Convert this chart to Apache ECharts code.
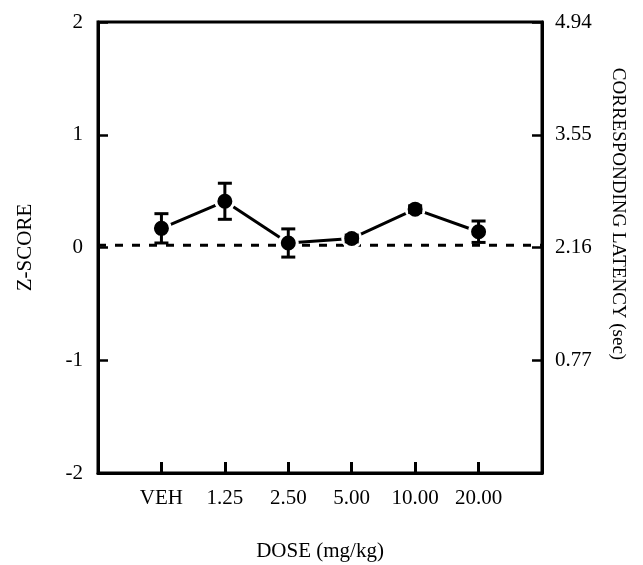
<!DOCTYPE html>
<html>
<head>
<meta charset="utf-8">
<script src="https://cdn.jsdelivr.net/npm/echarts@6/dist/echarts.min.js"></script>
<style>
  html, body { margin: 0; padding: 0; background: #fff; }
</style>
</head>
<body>
<div id="chart" style="width:643px;height:565px"></div>
<script>
// dose groups (x positions 1..6)
var doseLabels = ["VEH", "1.25", "2.50", "5.00", "10.00", "20.00"];
// mean z-score and error (SEM)
var zScores = [0.17, 0.41, 0.04, 0.08, 0.34, 0.14];
var zErrors = [0.13, 0.16, 0.125, 0.03, 0.03, 0.095];
// right axis tick labels, for z = -2, -1, 0, 1, 2
var latencyTicks = ["", "0.77", "2.16", "3.55", "4.94"];
// baseline reference (dashed)
var baseline = 0.02;

var serif = "Liberation Serif";

var points = zScores.map(function (v, i) { return [i + 1, v]; });
var errData = zScores.map(function (v, i) { return [i + 1, v, zErrors[i]]; });

var chart = echarts.init(document.getElementById("chart"));
chart.setOption({
  animation: false,
  backgroundColor: "#fff",
  grid: {
    left: 98, right: 101, top: 22, bottom: 92,
    outerBoundsMode: "none",
    show: true, borderColor: "#000", borderWidth: 3
  },
  xAxis: {
    type: "value",
    min: 0, max: 7, interval: 1,
    splitLine: { show: false },
    axisLine: { onZero: false, lineStyle: { color: "#000", width: 3 } },
    axisTick: { inside: true, length: 11, lineStyle: { color: "#000", width: 3 } },
    axisLabel: {
      margin: 15, color: "#000", fontFamily: serif, fontSize: 21,
      formatter: function (v) { return doseLabels[v - 1] || ""; }
    },
    name: "DOSE (mg/kg)",
    nameLocation: "middle",
    nameGap: 68,
    nameTextStyle: { color: "#000", fontFamily: serif, fontSize: 21 }
  },
  yAxis: [
    {
      type: "value",
      min: -2, max: 2, interval: 1,
      splitLine: { show: false },
      axisLine: { lineStyle: { color: "#000", width: 3 } },
      axisTick: { inside: true, length: 10, lineStyle: { color: "#000", width: 2.5 } },
      axisLabel: { margin: 15, color: "#000", fontFamily: serif, fontSize: 21 },
      name: "Z-SCORE",
      nameLocation: "middle",
      nameGap: 62,
      nameTextStyle: { color: "#000", fontFamily: serif, fontSize: 21 }
    },
    {
      type: "value",
      position: "right",
      min: -2, max: 2, interval: 1,
      splitLine: { show: false },
      axisLine: { show: true, lineStyle: { color: "#000", width: 3 } },
      axisTick: { show: true, inside: true, length: 10, lineStyle: { color: "#000", width: 2.5 } },
      axisLabel: {
        margin: 13, color: "#000", fontFamily: serif, fontSize: 21,
        formatter: function (v) { return latencyTicks[v + 2]; }
      }
    }
  ],
  graphic: [
    {
      type: "text",
      x: 618, y: 214,
      rotation: -Math.PI / 2,
      style: {
        text: "CORRESPONDING LATENCY (sec)",
        fill: "#000",
        font: "19px " + serif,
        align: "center",
        verticalAlign: "middle"
      }
    }
  ],
  series: [
    {
      type: "line",
      data: [[0, baseline], [7, baseline]],
      symbol: "none",
      lineStyle: { color: "#000", width: 3, type: [8, 9] },
      z: 1
    },
    {
      type: "line",
      data: points,
      symbol: "circle",
      symbolSize: 18,
      itemStyle: { color: "#000", borderColor: "#fff", borderWidth: 3 },
      lineStyle: { color: "#000", width: 3 },
      z: 3
    },
    {
      type: "custom",
      data: errData,
      z: 4,
      renderItem: function (params, api) {
        var x = api.value(0), y = api.value(1), e = api.value(2);
        var top = api.coord([x, y + e]);
        var bot = api.coord([x, y - e]);
        var w = 7;
        var st = { stroke: "#000", lineWidth: 3 };
        return {
          type: "group",
          children: [
            { type: "line", shape: { x1: top[0], y1: top[1], x2: bot[0], y2: bot[1] }, style: st },
            { type: "line", shape: { x1: top[0] - w, y1: top[1], x2: top[0] + w, y2: top[1] }, style: st },
            { type: "line", shape: { x1: bot[0] - w, y1: bot[1], x2: bot[0] + w, y2: bot[1] }, style: st }
          ]
        };
      }
    }
  ]
});
</script>
</body>
</html>
